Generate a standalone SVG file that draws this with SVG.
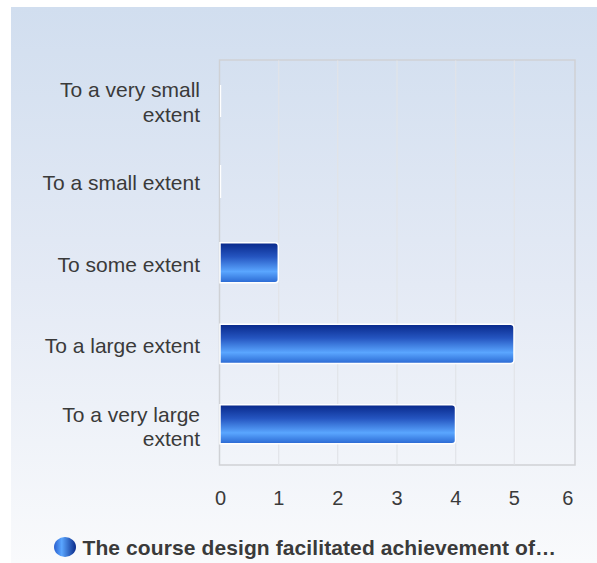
<svg xmlns="http://www.w3.org/2000/svg" width="597" height="563" viewBox="0 0 597 563">
<defs>
<linearGradient id="bg" x1="0" y1="0" x2="0" y2="1">
<stop offset="0" stop-color="#d1deef"/>
<stop offset="0.5" stop-color="#e4eaf5"/>
<stop offset="1" stop-color="#f9fafc"/>
</linearGradient>
<linearGradient id="bar" x1="0" y1="0" x2="0" y2="1">
<stop offset="0" stop-color="#08288a"/>
<stop offset="0.35" stop-color="#2555c0"/>
<stop offset="0.72" stop-color="#5aa6ff"/>
<stop offset="1" stop-color="#2a68d2"/>
</linearGradient>
<linearGradient id="leg" x1="0" y1="0" x2="1" y2="0">
<stop offset="0" stop-color="#2a5fcf"/>
<stop offset="0.35" stop-color="#5aa6ff"/>
<stop offset="1" stop-color="#0a2a8a"/>
</linearGradient>
<style>
.lbl{font-family:"Liberation Sans",Arial,sans-serif;font-size:21px;fill:#3a3a3a;text-anchor:end}
.tick{font-family:"Liberation Sans",Arial,sans-serif;font-size:20px;fill:#3a3a3a;text-anchor:middle}
.grid{stroke:#e2e4e8;stroke-width:1.2}
.bar{fill:url(#bar);stroke:#ffffff;stroke-width:1.5}
</style>
</defs>
<rect x="11" y="7" width="586" height="556" fill="url(#bg)"/>
<g id="plot">
<rect x="219.5" y="60" width="355.5" height="405" fill="none" stroke="#cfd1d5" stroke-width="1.5"/>
<line class="grid" x1="278.7" y1="60.5" x2="278.7" y2="464.5"/>
<line class="grid" x1="337.7" y1="60.5" x2="337.7" y2="464.5"/>
<line class="grid" x1="397" y1="60.5" x2="397" y2="464.5"/>
<line class="grid" x1="455.7" y1="60.5" x2="455.7" y2="464.5"/>
<line class="grid" x1="514.3" y1="60.5" x2="514.3" y2="464.5"/>
</g>
<g id="bars">
<rect x="220" y="85" width="1.2" height="32" fill="#ffffff"/>
<rect x="220" y="165" width="1.2" height="33" fill="#ffffff"/>
<path class="bar" d="M220,242.7 H275 Q278.3,242.7 278.3,246 V279.5 Q278.3,282.7 275,282.7 H220 Z"/>
<path class="bar" d="M220,324.3 H510.5 Q514,324.3 514,327.8 V360 Q514,363.5 510.5,363.5 H220 Z"/>
<path class="bar" d="M220,404.8 H452 Q455.5,404.8 455.5,408.3 V440.2 Q455.5,443.7 452,443.7 H220 Z"/>
</g>
<g id="labels">
<text class="lbl" x="200" y="97">To a very small</text>
<text class="lbl" x="200" y="121.5">extent</text>
<text class="lbl" x="200" y="189.5">To a small extent</text>
<text class="lbl" x="200" y="271.5">To some extent</text>
<text class="lbl" x="200" y="352.5">To a large extent</text>
<text class="lbl" x="200" y="421.5">To a very large</text>
<text class="lbl" x="200" y="445.5">extent</text>
</g>
<g id="ticks">
<text class="tick" x="220.5" y="505">0</text>
<text class="tick" x="278.7" y="505">1</text>
<text class="tick" x="337.7" y="505">2</text>
<text class="tick" x="397" y="505">3</text>
<text class="tick" x="455.7" y="505">4</text>
<text class="tick" x="514.3" y="505">5</text>
<text class="tick" x="567.7" y="505">6</text>
</g>
<g id="legend">
<ellipse cx="65" cy="547" rx="11" ry="10" fill="url(#leg)"/>
<text x="82.5" y="555" font-family="'Liberation Sans',Arial,sans-serif" font-size="21" font-weight="bold" letter-spacing="0.1" fill="#3a3a3a">The course design facilitated achievement of…</text>
</g>
</svg>
